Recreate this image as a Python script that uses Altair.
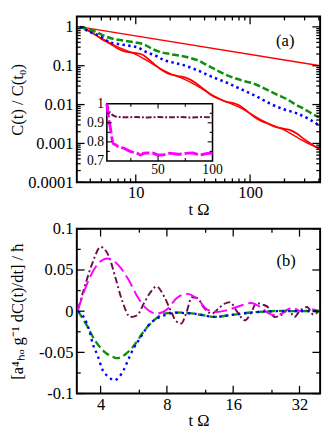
import altair as alt
import pandas as pd

FONT = "Liberation Serif"
W = 251
HA = 171
HB = 170

# ---------------- panel (a) data ----------------
t_power = [3.25, 410]
c_power = [1.0, 0.1]

t_red_smooth = [3.25, 4, 5, 6, 7, 8, 10, 12, 15, 20, 25, 30, 40, 50, 60, 80, 100, 130, 160, 200, 250, 300, 400]
c_red_smooth = [1.0, 0.733, 0.513, 0.38, 0.302, 0.257, 0.195, 0.146, 0.098, 0.063, 0.0484, 0.0376, 0.0232,
                0.0158, 0.0123, 0.0086, 0.00596, 0.0038, 0.00288, 0.00219, 0.00151, 0.00111, 0.00074]

t_red_wavy = [3.25, 4, 5, 6, 7, 8, 9, 10, 11.5, 13, 14.5, 17, 19, 22, 25, 28, 33, 40, 46, 55, 62, 70, 80, 95,
              110, 125, 145, 170, 195, 225, 260, 300, 350, 400]
c_red_wavy = [1.0, 0.776, 0.49, 0.363, 0.275, 0.234, 0.221, 0.211, 0.191, 0.145, 0.11, 0.0759, 0.0631, 0.0562,
              0.0525, 0.0479, 0.0372, 0.024, 0.0174, 0.0135, 0.0117, 0.011, 0.00955, 0.0066, 0.00468, 0.0038,
              0.00316, 0.00263, 0.0024, 0.00219, 0.00174, 0.00126, 0.00093, 0.00074]

t_green_a = [3.25, 3.8, 4.5, 5.4, 6.2, 7, 8, 10, 12, 14, 17, 20, 25, 30, 35, 40, 50, 60, 75, 90, 110, 130, 150,
             180, 210, 250, 300, 350, 400]
c_green_a = [1.0, 0.912, 0.741, 0.575, 0.501, 0.468, 0.437, 0.398, 0.347, 0.269, 0.219, 0.2, 0.178, 0.158, 0.138,
             0.112, 0.0794, 0.0603, 0.0468, 0.0398, 0.0339, 0.0269, 0.0219, 0.017, 0.0138, 0.01, 0.00759,
             0.00575, 0.00468]

t_blue_a = [3.25, 3.9, 4.76, 6, 7, 8.6, 10.4, 12.2, 15.4, 17.5, 20, 25.7, 33.5, 46, 64, 90, 116, 150, 196, 253,
            330, 400]
c_blue_a = [1.0, 0.759, 0.603, 0.398, 0.363, 0.331, 0.295, 0.229, 0.174, 0.141, 0.126, 0.105, 0.0794, 0.0525,
            0.0355, 0.0224, 0.0158, 0.0105, 0.00759, 0.00603, 0.00417, 0.00295]

# inset
t_in_purple = [3, 4.5, 7.5, 10, 13, 20, 30, 40, 50, 60, 70, 80, 90, 100]
v_in_purple = [1.0, 0.97, 0.945, 0.935, 0.931, 0.929, 0.93, 0.928, 0.93, 0.929, 0.93, 0.928, 0.93, 0.929]
t_in_magenta = [3, 4, 6, 9, 11, 13.4, 16, 19.4, 22, 25, 28, 31, 34, 37, 41, 44.6, 48, 50.5, 55, 58, 61, 65, 69,
                73, 77, 82, 85, 88, 92, 95, 98, 100]
v_in_magenta = [1.0, 0.95, 0.88, 0.79, 0.785, 0.775, 0.77, 0.765, 0.757, 0.749, 0.745, 0.74, 0.731, 0.74, 0.742,
                0.742, 0.735, 0.731, 0.732, 0.736, 0.74, 0.738, 0.735, 0.737, 0.741, 0.742, 0.737, 0.731, 0.735,
                0.739, 0.74, 0.741]

# ---------------- panel (b) data ----------------
t_b_purple = [3.16, 3.38, 3.68, 4.0, 4.37, 4.68, 5.0, 5.46, 5.86, 6.3, 6.7, 7.18, 7.8, 8.38, 8.8, 9.3, 9.8, 10.4,
              11.0, 11.8, 12.8, 13.7, 14.6, 15.5, 16.6, 18.1, 19.3, 20.4, 21.8, 23.2, 24.6, 26.7, 28.4, 30.4, 32,
              34.6, 37, 39.7]
v_b_purple = [0.002, 0.029, 0.059, 0.078, 0.066, 0.040, 0.0135, -0.007, -0.005, 0.0098, 0.022, 0.030, 0.017,
              -0.001, -0.012, -0.015, -0.002, 0.017, 0.016, 0.004, -0.003, 0.003, 0.009, 0.011, 0.0, -0.011,
              -0.002, 0.0098, 0.008, 0.004, -0.007, -0.004, 0.002, -0.007, 0.0, 0.005, -0.004, 0.002]

t_b_magenta = [3.16, 3.56, 3.88, 4.3, 4.85, 5.36, 5.9, 6.4, 7.2, 8.07, 8.8, 9.9, 11, 12.2, 13.5, 14.9, 17, 19.3,
               21.5, 23.3, 25.1, 27, 29.5, 32.8, 36.8, 39.7]
v_b_magenta = [0.002, 0.040, 0.057, 0.064, 0.055, 0.038, 0.017, 0.004, -0.003, 0.003, 0.015, 0.021, 0.015, 0.002,
               -0.001, 0.001, 0.006, 0.010, 0.004, -0.003, -0.005, -0.002, 0.004, 0.0, 0.002, 0.0]

t_b_green = [3.16, 3.46, 3.76, 4.15, 4.6, 4.75, 5.2, 5.7, 6.3, 7.0, 7.8, 8.6, 10.6, 13.3, 15.2, 19.6, 26, 32, 39.7]
v_b_green = [0.0, -0.017, -0.035, -0.049, -0.056, -0.057, -0.052, -0.041, -0.024, -0.011, -0.003, -0.0015,
             -0.003, -0.007, -0.005, -0.0015, 0.0003, 0.0, 0.0]

t_b_blue = [3.16, 3.38, 3.56, 3.68, 3.88, 4.08, 4.37, 4.6, 4.85, 5.1, 5.36, 5.6, 5.9, 6.2, 6.6, 7.2, 7.8, 8.6,
            10.6, 13.3, 15.2, 19.6, 26, 32, 39.7]
v_b_blue = [0.0, -0.009, -0.024, -0.039, -0.054, -0.071, -0.080, -0.084, -0.080, -0.071, -0.058, -0.047, -0.037,
            -0.028, -0.017, -0.009, -0.005, -0.002, -0.003, -0.007, -0.005, -0.0015, 0.0, 0.0, 0.0]

# ---------------- ticks ----------------
a_x_major = [10, 100]
a_x_minor = [4, 5, 6, 7, 8, 9, 20, 30, 40, 50, 60, 70, 80, 90, 200, 300, 400]
a_y_major = [1, 0.1, 0.01, 0.001, 0.0001]
a_y_minor = [0.0002, 0.0003, 0.0004, 0.0005, 0.0006, 0.0007, 0.0008, 0.0009,
             0.002, 0.003, 0.004, 0.005, 0.006, 0.007, 0.008, 0.009,
             0.02, 0.03, 0.04, 0.05, 0.06, 0.07, 0.08, 0.09,
             0.2, 0.3, 0.4, 0.5, 0.6, 0.7, 0.8, 0.9]
b_x_major = [4, 8, 16, 32]
b_x_minor = [6, 12, 24]
b_y_major = [-0.1, -0.05, 0, 0.05, 0.1]
b_y_minor = [-0.075, -0.025, 0.025, 0.075]
in_x_major = [50]
in_x_minor = [25, 75]
in_y_major = [0.8, 0.9]
in_y_minor = [0.75, 0.85, 0.95]

RED = "#ff0000"
GREEN = "#0f8f0f"
BLUE = "#0000ff"
MAGENTA = "#ff00ff"
PURPLE = "#6b1048"


def line(t, v, xs, ys, color, width, xaxis, yaxis, dash=None):
    df = pd.DataFrame({"t": t, "v": v})
    kw = dict(color=color, strokeWidth=width, clip=True, interpolate="monotone")
    if dash:
        kw["strokeDash"] = dash
    return alt.Chart(df).mark_line(**kw).encode(
        x=alt.X("t:Q", scale=xs, axis=xaxis),
        y=alt.Y("v:Q", scale=ys, axis=yaxis),
    )


def ticks(xs, ys, xaxis, yaxis, left, right, top, bottom, xmaj, xmin, ymaj, ymin, lmaj=8, lmin=4, sw=1.3):
    layers = []
    for vals, L in ((xmaj, lmaj), (xmin, lmin)):
        df = pd.DataFrame({"v": vals})
        for a, b in ((bottom, bottom - L), (top, top + L)):
            layers.append(alt.Chart(df).mark_rule(color="black", strokeWidth=sw).encode(
                x=alt.X("v:Q", scale=xs, axis=xaxis), y=alt.value(a), y2=alt.value(b)))
    for vals, L in ((ymaj, lmaj), (ymin, lmin)):
        df = pd.DataFrame({"v": vals})
        for a, b in ((left, left + L), (right, right - L)):
            layers.append(alt.Chart(df).mark_rule(color="black", strokeWidth=sw).encode(
                y=alt.Y("v:Q", scale=ys, axis=yaxis), x=alt.value(a), x2=alt.value(b)))
    return layers


def label(txt, x, y):
    return alt.Chart(pd.DataFrame({"s": [txt]})).mark_text(
        font=FONT, fontSize=17, color="black", align="center", baseline="middle"
    ).encode(text="s:N", x=alt.value(x), y=alt.value(y))


# ---------------- panel (a) ----------------
xA = alt.Scale(type="log", domain=[3.05, 410], nice=False)
yA = alt.Scale(type="log", domain=[0.0001, 1.85], nice=False)
ax_xA = alt.Axis(values=a_x_major, format="d", title="t Ω", labelPadding=3, titlePadding=1,
                 labelFlush=False, labelOverlap=False)
ax_yA = alt.Axis(values=a_y_major, format="~g", title="C(t) / C(t₀)", labelPadding=4, titlePadding=4,
                 minExtent=48, maxExtent=48, labelOverlap=False)

main_a = alt.layer(
    line(t_power, c_power, xA, yA, RED, 1.4, ax_xA, ax_yA),
    line(t_red_smooth, c_red_smooth, xA, yA, RED, 1.4, ax_xA, ax_yA),
    line(t_red_wavy, c_red_wavy, xA, yA, RED, 1.8, ax_xA, ax_yA),
    line(t_green_a, c_green_a, xA, yA, GREEN, 2.6, ax_xA, ax_yA, dash=[7, 3]),
    line(t_blue_a, c_blue_a, xA, yA, BLUE, 2.6, ax_xA, ax_yA, dash=[2.5, 3.5]),
    *ticks(xA, yA, ax_xA, ax_yA, 0, W, 0, HA, a_x_major, a_x_minor, a_y_major, a_y_minor),
    label("(a)", 215, 25),
)

IX0, IX1, IY0, IY1 = 31, 140, 90, 149
xI = alt.Scale(domain=[3, 100], range=[IX0, IX1], nice=False, zero=False)
yI = alt.Scale(domain=[0.7, 1.0], range=[IY1, IY0], nice=False, zero=False)
box = alt.Chart(pd.DataFrame({"x0": [3], "x1": [100], "y0": [0.7], "y1": [1.0]})).mark_rect(
    fill="white", stroke="black", strokeWidth=1.6
).encode(
    x=alt.X("x0:Q", scale=xI, axis=None), x2="x1:Q",
    y=alt.Y("y0:Q", scale=yI, axis=None), y2="y1:Q",
)
in_ylab = alt.Chart(pd.DataFrame({"v": [1.0, 0.9, 0.8, 0.7], "s": ["1", "0.9", "0.8", "0.7"]})).mark_text(
    font=FONT, fontSize=14, color="black", align="right", baseline="middle", dx=-3
).encode(y=alt.Y("v:Q", scale=yI, axis=None), x=alt.value(IX0), text="s:N")
in_xlab = alt.Chart(pd.DataFrame({"v": [50, 100], "s": ["50", "100"]})).mark_text(
    font=FONT, fontSize=14, color="black", align="center", baseline="top", dy=2
).encode(x=alt.X("v:Q", scale=xI, axis=None), y=alt.value(IY1), text="s:N")

inset = alt.layer(
    box,
    line(t_in_purple, v_in_purple, xI, yI, PURPLE, 2, None, None, dash=[6, 2, 2, 2]),
    line(t_in_magenta, v_in_magenta, xI, yI, MAGENTA, 3, None, None, dash=[14, 3]),
    *ticks(xI, yI, None, None, IX0, IX1, IY0, IY1, in_x_major, in_x_minor, in_y_major, in_y_minor,
           lmaj=5, lmin=3, sw=1.1),
    in_ylab, in_xlab,
)

panel_a = alt.layer(main_a, inset).resolve_scale(x="independent", y="independent").properties(
    width=W, height=HA)

# ---------------- panel (b) ----------------
xB = alt.Scale(type="log", domain=[3.12, 39.7], nice=False)
yB = alt.Scale(domain=[-0.1, 0.1], nice=False, zero=False)
ax_xB = alt.Axis(values=b_x_major, format="d", title="t Ω", labelPadding=3, titlePadding=1,
                 labelFlush=False, labelOverlap=False)
ax_yB = alt.Axis(values=b_y_major, title="[a⁴ₕₒ g⁻¹ dC(t)/dt] / ħ",
                 labelExpr="datum.value < 0 ? '-' + format(-datum.value, '~g') : format(datum.value, '~g')",
                 labelPadding=4, titlePadding=4, minExtent=48, maxExtent=48, labelOverlap=False)

panel_b = alt.layer(
    line(t_b_purple, v_b_purple, xB, yB, PURPLE, 2, ax_xB, ax_yB, dash=[7, 3, 2, 3]),
    line(t_b_magenta, v_b_magenta, xB, yB, MAGENTA, 2, ax_xB, ax_yB, dash=[13, 5]),
    line(t_b_green, v_b_green, xB, yB, GREEN, 2.4, ax_xB, ax_yB, dash=[8, 4]),
    line(t_b_blue, v_b_blue, xB, yB, BLUE, 2.4, ax_xB, ax_yB, dash=[2.5, 4]),
    *ticks(xB, yB, ax_xB, ax_yB, 0, W, 0, HB, b_x_major, b_x_minor, b_y_major, b_y_minor),
    label("(b)", 216, 33),
).properties(width=W, height=HB)

chart = alt.vconcat(panel_a, panel_b, spacing=1).properties(
    padding={"left": 0, "top": 0, "right": 2, "bottom": 0}
).configure_view(stroke="black", strokeWidth=2).configure_axis(
    labelFont=FONT, titleFont=FONT, labelFontSize=17, titleFontSize=17, titleFontWeight="normal",
    labelColor="black", titleColor="black", domain=False, ticks=False, grid=False
)

chart.save("out.html", embed_options={"renderer": "svg", "actions": False})
